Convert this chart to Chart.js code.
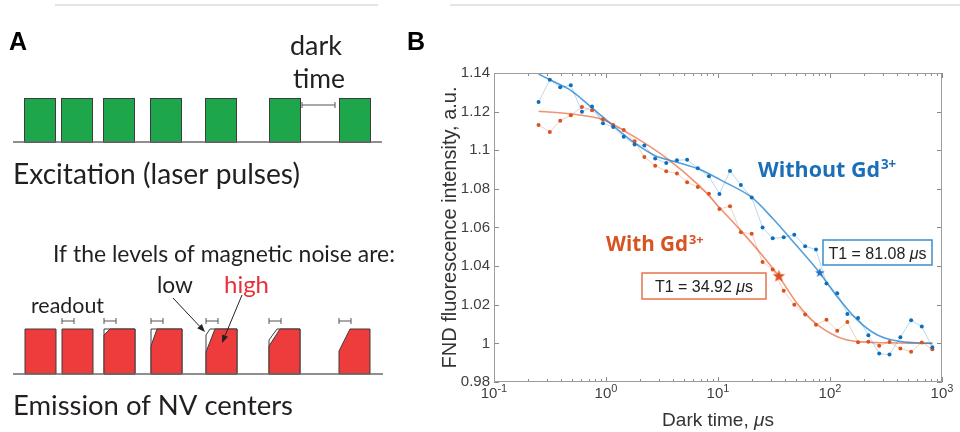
<!DOCTYPE html>
<html>
<head>
<meta charset="utf-8">
<script src="https://cdn.jsdelivr.net/npm/chart.js@4.4.0/dist/chart.umd.min.js"></script>
<style>
  body { margin: 0; background: #fff; }
  #wrap { position: relative; width: 960px; height: 432px; overflow: hidden; }
  canvas { position: absolute; top: 0; }
  #panelA { left: 0; }
  #panelB { left: 440px; }
</style>
</head>
<body>
<div id="wrap">
  <canvas id="panelA" width="440" height="432"></canvas>
  <canvas id="panelB" width="520" height="432"></canvas>
</div>
<script>
// ---- panel B data ----
const darkTime = [0.25, 0.315, 0.39, 0.485, 0.61, 0.75, 0.94, 1.16, 1.44, 1.8, 2.2, 2.75, 3.45, 4.3, 5.3, 6.6, 8.3, 10.3, 12.8, 16,
                  20, 25, 30.8, 38.6, 48, 60, 75, 93, 116, 143, 178, 220, 275, 340, 425, 530, 660, 820];
const withoutGd = [1.125, 1.1365, 1.1326, 1.1336, 1.12, 1.1227, 1.114, 1.112, 1.107, 1.103, 1.1024, 1.0957, 1.0934, 1.0948, 1.0951, 1.0907, 1.0865, 1.0774, 1.0893, 1.082,
                   1.0755, 1.06, 1.0544, 1.0549, 1.0563, 1.0503, 1.0486, 1.031, 1.026, 1.0152, 1.0132, 1.0042, 0.9947, 0.9942, 1.0032, 1.012, 1.0087, 0.998];
const withGd = [1.1131, 1.1095, 1.1153, 1.1181, 1.1224, 1.1207, 1.116, 1.1131, 1.1105, 1.1046, 1.0965, 1.092, 1.0891, 1.088, 1.0834, 1.081, 1.0775, 1.0696, 1.071, 1.0575,
                1.0568, 1.0422, 1.0382, 1.0273, 1.02, 1.0149, 1.0097, 1.0122, 1.0066, 1.0111, 1.0006, 1.0009, 0.9988, 1.0007, 0.9973, 0.9956, 1.0005, 0.9969];

// fitted curves
const fitWithoutX = [0.25, 0.315, 0.485, 0.75, 1.16, 1.8, 2.75, 4.3, 6.9, 10.4, 19.4, 31, 50.5, 81.08, 115, 174, 262, 425, 820];
const fitWithoutY = [1.1395, 1.1365, 1.131, 1.1219, 1.1127, 1.1038, 1.0972, 1.0938, 1.09, 1.0848, 1.0762, 1.0645, 1.0505, 1.0365, 1.0244, 1.0123, 1.0045, 1.001, 1.0];
const fitWithX = [0.25, 0.485, 0.94, 1.8, 3.45, 6.9, 10.4, 15.7, 24.5, 34.92, 50.5, 73.6, 115, 174, 425, 820];
const fitWithY = [1.1202, 1.1188, 1.1158, 1.1069, 1.096, 1.0813, 1.0701, 1.0589, 1.046, 1.0347, 1.0209, 1.0106, 1.0036, 1.001, 1.0002, 1.0];

// T1 markers
const t1Without = 81.08, t1WithoutY = 1.0365;
const t1With = 34.92, t1WithY = 1.0347;

const yTicks = [0.98, 1, 1.02, 1.04, 1.06, 1.08, 1.1, 1.12, 1.14];
const xTicks = [0.1, 1, 10, 100, 1000];
const xTickExp = ['-1', '0', '1', '2', '3'];

// ---- panel A diagram data ----
const exciteLeft = [24, 61, 103, 150, 205, 269, 339];
const emitLeft = [25, 62, 104, 151, 206, 269, 339];
const ghostCut = [[0, 0], [0, 0], [0, 0], [0, 0], [4, 6], [8, 11], [11, 22]];
const redCut = [[0, 0], [0, 0], [6, 6], [6, 17], [9, 23], [11, 17], [11, 22]];

const BLUE = '#0b6fbe';
const ORANGE = '#d9531e';

function pts(xs, ys) {
  return xs.map((x, i) => ({ x: x, y: ys[i] }));
}

function fitText(ctx, str, x, base, w, weight, family, color) {
  ctx.font = weight + ' 100px ' + family;
  const size = 100 * w / ctx.measureText(str).width;
  ctx.font = weight + ' ' + size.toFixed(2) + 'px ' + family;
  ctx.fillStyle = color;
  ctx.textAlign = 'left';
  ctx.textBaseline = 'alphabetic';
  ctx.fillText(str, x, base);
  return size;
}

function arrow(ctx, x1, y1, x2, y2) {
  const ang = Math.atan2(y2 - y1, x2 - x1), L = 8, H = 3.2;
  ctx.beginPath();
  ctx.moveTo(x1, y1);
  ctx.lineTo(x2 - L * Math.cos(ang), y2 - L * Math.sin(ang));
  ctx.stroke();
  ctx.beginPath();
  ctx.moveTo(x2, y2);
  ctx.lineTo(x2 - L * Math.cos(ang) + H * Math.sin(ang), y2 - L * Math.sin(ang) - H * Math.cos(ang));
  ctx.lineTo(x2 - L * Math.cos(ang) - H * Math.sin(ang), y2 - L * Math.sin(ang) + H * Math.cos(ang));
  ctx.closePath();
  ctx.fill();
}

function bracket(ctx, x1, x2, y) {
  ctx.beginPath();
  ctx.moveTo(x1, y); ctx.lineTo(x2, y);
  ctx.moveTo(x1, y - 3); ctx.lineTo(x1, y + 3);
  ctx.moveTo(x2, y - 3); ctx.lineTo(x2, y + 3);
  ctx.stroke();
}

// draws the pulse diagram of panel A through the chart's scales
const diagramPlugin = {
  id: 'diagram',
  afterDraw(chart) {
    const ctx = chart.ctx;
    const X = v => chart.scales.x.getPixelForValue(v);
    const Y = v => chart.scales.y.getPixelForValue(v);
    const w = 31;
    ctx.save();

    ctx.strokeStyle = '#e4e4e4';
    ctx.lineWidth = 2;
    ctx.beginPath(); ctx.moveTo(X(55), Y(5)); ctx.lineTo(X(378), Y(5)); ctx.stroke();

    const font = 'Lato, "Open Sans", sans-serif';
    const ink = '#231f20';
    ctx.font = 'bold 25px "Liberation Sans", Arial, sans-serif';
    ctx.fillStyle = '#000';
    ctx.fillText('A', X(9), Y(50));
    ctx.fillText('B', X(407), Y(50));

    // excitation pulses
    ctx.lineWidth = 1;
    exciteLeft.forEach(l => {
      ctx.fillStyle = '#1ea64b';
      ctx.fillRect(X(l), Y(98), X(l + w) - X(l), Y(142) - Y(98));
      ctx.strokeStyle = '#3c3c3c';
      ctx.strokeRect(X(l) + 0.5, Y(98) + 0.5, X(l + w) - X(l), Y(142) - Y(98));
    });
    ctx.strokeStyle = '#6a6a6a';
    ctx.lineWidth = 1.5;
    ctx.beginPath(); ctx.moveTo(X(13), Y(142)); ctx.lineTo(X(382), Y(142)); ctx.stroke();
    ctx.lineWidth = 1;
    ctx.strokeStyle = '#555';
    bracket(ctx, X(302), X(335), Y(105));

    // emission pulses
    const top = 329, bot = 374;
    emitLeft.forEach((l, i) => {
      const g = ghostCut[i], r = redCut[i];
      ctx.strokeStyle = '#3c3c3c';
      if (r[0] > 0 && (g[0] !== r[0] || g[1] !== r[1])) {
        ctx.beginPath();
        ctx.moveTo(X(l + g[0]), Y(top));
        ctx.lineTo(X(l + w), Y(top)); ctx.lineTo(X(l + w), Y(bot));
        ctx.lineTo(X(l), Y(bot)); ctx.lineTo(X(l), Y(top + g[1]));
        ctx.closePath();
        ctx.fillStyle = '#fff'; ctx.fill(); ctx.stroke();
      }
      ctx.beginPath();
      ctx.moveTo(X(l + r[0]), Y(top));
      ctx.lineTo(X(l + w), Y(top)); ctx.lineTo(X(l + w), Y(bot));
      ctx.lineTo(X(l), Y(bot)); ctx.lineTo(X(l), Y(top + r[1]));
      ctx.closePath();
      ctx.fillStyle = '#ee3b3b'; ctx.fill(); ctx.stroke();
      if (i > 0) {
        ctx.strokeStyle = '#555';
        bracket(ctx, X(l), X(l + 12), Y(321));
      }
    });
    ctx.strokeStyle = '#6a6a6a';
    ctx.lineWidth = 1.5;
    ctx.beginPath(); ctx.moveTo(X(13), Y(374)); ctx.lineTo(X(383), Y(374)); ctx.stroke();

    // arrows
    ctx.lineWidth = 1;
    ctx.strokeStyle = '#222';
    ctx.fillStyle = '#222';
    arrow(ctx, X(173), Y(298), X(205), Y(332));
    arrow(ctx, X(242), Y(295), X(222), Y(343));

    // labels
    fitText(ctx, 'dark', X(290), Y(55), 52, 'normal', font, ink);
    fitText(ctx, 'time', X(293), Y(88), 52, 'normal', font, ink);
    fitText(ctx, 'Excitation (laser pulses)', X(13), Y(184), 287, 'normal', font, ink);
    fitText(ctx, 'If the levels of magnetic noise are:', X(53), Y(262), 342, 'normal', font, ink);
    fitText(ctx, 'low', X(157), Y(293), 36, 'normal', font, ink);
    fitText(ctx, 'high', X(224), Y(293), 45, 'normal', font, '#e8303a');
    fitText(ctx, 'readout', X(31), Y(313), 73, 'normal', font, ink);
    fitText(ctx, 'Emission of NV centers', X(13), Y(415), 280, 'normal', font, ink);
    ctx.restore();
  }
};

new Chart(document.getElementById('panelA'), {
  type: 'scatter',
  data: { datasets: [] },
  options: {
    responsive: false,
    animation: false,
    events: [],
    layout: { padding: 0 },
    plugins: { legend: { display: false }, tooltip: { enabled: false } },
    scales: {
      x: { type: 'linear', min: 0, max: 440, display: false },
      y: { type: 'linear', min: 0, max: 432, reverse: true, display: false }
    }
  },
  plugins: [diagramPlugin]
});

// ---- panel B ----
function starImage(color, r) {
  const c = document.createElement('canvas');
  const s = Math.ceil(r * 2 + 2);
  c.width = c.height = s;
  const g = c.getContext('2d');
  g.fillStyle = color;
  g.beginPath();
  for (let i = 0; i < 10; i++) {
    const a = -Math.PI / 2 + i * Math.PI / 5;
    const rr = i % 2 ? r * 0.42 : r;
    g.lineTo(s / 2 + rr * Math.cos(a), s / 2 + rr * Math.sin(a));
  }
  g.closePath();
  g.fill();
  return c;
}

function drawSup(ctx, main, sup, x, base, w, color) {
  const size = fitText(ctx, main, x, base, w, 'bold', '"Open Sans", sans-serif', color);
  ctx.font = 'bold ' + (size * 0.62).toFixed(2) + 'px "Open Sans", sans-serif';
  ctx.fillText(sup, x + w + 1, base - size * 0.36);
}

function boxLabel(ctx, num, x1, y1, x2, y2, color) {
  ctx.lineWidth = 1.5;
  ctx.strokeStyle = color;
  ctx.strokeRect(x1, y1, x2 - x1, y2 - y1);
  const f = '"Liberation Sans", Arial, sans-serif';
  const a = 'T1 = ' + num + ' ', b = 'μ', c = 's';
  ctx.font = '16px ' + f;
  const wa = ctx.measureText(a).width, wc = ctx.measureText(c).width;
  ctx.font = 'italic 16px ' + f;
  const wb = ctx.measureText(b).width;
  let x = (x1 + x2) / 2 - (wa + wb + wc) / 2;
  const base = (y1 + y2) / 2 + 6;
  ctx.fillStyle = '#222';
  ctx.textAlign = 'left';
  ctx.font = '16px ' + f; ctx.fillText(a, x, base); x += wa;
  ctx.font = 'italic 16px ' + f; ctx.fillText(b, x, base); x += wb;
  ctx.font = '16px ' + f; ctx.fillText(c, x, base);
}

const framePlugin = {
  id: 'frame',
  afterDatasetsDraw(chart) {
    const ctx = chart.ctx, a = chart.chartArea;
    const sx = chart.scales.x, sy = chart.scales.y;
    ctx.save();

    ctx.strokeStyle = '#e4e4e4';
    ctx.lineWidth = 2;
    ctx.beginPath(); ctx.moveTo(10, 5); ctx.lineTo(520, 5); ctx.stroke();

    // inward ticks on all four sides
    ctx.strokeStyle = '#8a8a8a';
    ctx.lineWidth = 1;
    ctx.beginPath();
    yTicks.forEach(v => {
      const py = Math.round(sy.getPixelForValue(v)) + 0.5;
      ctx.moveTo(a.left, py); ctx.lineTo(a.left + 5, py);
      ctx.moveTo(a.right, py); ctx.lineTo(a.right - 5, py);
    });
    xTicks.forEach(d => {
      for (let m = 1; m <= 9; m++) {
        const v = m * d;
        if (v > 1000) break;
        const px = Math.round(sx.getPixelForValue(v)) + 0.5;
        const len = m === 1 ? 5 : 3;
        ctx.moveTo(px, a.bottom); ctx.lineTo(px, a.bottom - len);
        ctx.moveTo(px, a.top); ctx.lineTo(px, a.top + len);
      }
    });
    ctx.stroke();
    ctx.strokeStyle = '#9c9c9c';
    ctx.strokeRect(a.left + 0.5, a.top + 0.5, a.right - a.left - 1, a.bottom - a.top - 1);

    // x tick labels with superscripts
    const f = '"Liberation Sans", Arial, sans-serif';
    ctx.fillStyle = '#404040';
    ctx.textAlign = 'left';
    xTicks.forEach((v, k) => {
      ctx.font = '15px ' + f;
      const w1 = ctx.measureText('10').width;
      ctx.font = '11px ' + f;
      const w2 = ctx.measureText(xTickExp[k]).width;
      const x0 = sx.getPixelForValue(v) - (w1 + w2) / 2;
      ctx.font = '15px ' + f;
      ctx.fillText('10', x0, a.bottom + 16);
      ctx.font = '11px ' + f;
      ctx.fillText(xTickExp[k], x0 + w1, a.bottom + 10);
    });

    // x title
    const t1 = 'Dark time, ', t2 = 'μ', t3 = 's';
    ctx.font = '19px ' + f;
    const w1 = ctx.measureText(t1).width, w3 = ctx.measureText(t3).width;
    ctx.font = 'italic 19px ' + f;
    const w2 = ctx.measureText(t2).width;
    let tx = (a.left + a.right) / 2 - (w1 + w2 + w3) / 2;
    ctx.fillStyle = '#333';
    ctx.font = '19px ' + f; ctx.fillText(t1, tx, 426); tx += w1;
    ctx.font = 'italic 19px ' + f; ctx.fillText(t2, tx, 426); tx += w2;
    ctx.font = '19px ' + f; ctx.fillText(t3, tx, 426);

    // annotations
    drawSup(ctx, 'Without Gd', '3+', 318, 177, 122, '#1a6fb8');
    drawSup(ctx, 'With Gd', '3+', 166, 251, 82, '#d8531f');
    boxLabel(ctx, t1Without.toFixed(2), 383, 240, 492, 265, '#3a8fd0');
    boxLabel(ctx, t1With.toFixed(2), 202, 273, 326, 299, '#e2764c');
    ctx.restore();
  }
};

new Chart(document.getElementById('panelB'), {
  type: 'scatter',
  data: {
    datasets: [
      {
        label: 'fit without Gd',
        data: pts(fitWithoutX, fitWithoutY),
        showLine: true,
        borderColor: 'rgba(40,135,210,0.8)',
        borderWidth: 1.6,
        pointRadius: 0,
        tension: 0.3,
        order: 3
      },
      {
        label: 'fit with Gd',
        data: pts(fitWithX, fitWithY),
        showLine: true,
        borderColor: 'rgba(235,120,80,0.8)',
        borderWidth: 1.6,
        pointRadius: 0,
        tension: 0.3,
        order: 3
      },
      {
        label: 'Without Gd3+',
        data: pts(darkTime, withoutGd),
        showLine: true,
        borderColor: 'rgba(0,114,189,0.28)',
        borderWidth: 1,
        pointRadius: 2,
        pointBorderWidth: 0,
        pointBackgroundColor: BLUE,
        order: 2
      },
      {
        label: 'With Gd3+',
        data: pts(darkTime, withGd),
        showLine: true,
        borderColor: 'rgba(217,83,25,0.28)',
        borderWidth: 1,
        pointRadius: 2,
        pointBorderWidth: 0,
        pointBackgroundColor: ORANGE,
        order: 2
      },
      {
        label: 'T1 without',
        data: [{ x: t1Without, y: t1WithoutY }],
        pointStyle: starImage('#2472c2', 5),
        order: 1
      },
      {
        label: 'T1 with',
        data: [{ x: t1With, y: t1WithY }],
        pointStyle: starImage('#e0501c', 6.5),
        order: 1
      }
    ]
  },
  options: {
    responsive: false,
    animation: false,
    events: [],
    layout: { padding: { top: 73, right: 18, left: 0, bottom: 0 } },
    plugins: { legend: { display: false }, tooltip: { enabled: false } },
    scales: {
      x: {
        type: 'logarithmic',
        min: 0.1,
        max: 1000,
        grid: { display: false },
        border: { display: false },
        ticks: { display: false },
        afterBuildTicks: s => { s.ticks = xTicks.map(v => ({ value: v })); },
        afterFit: s => { s.height = 50; }
      },
      y: {
        min: 0.98,
        max: 1.14,
        grid: { display: false, drawTicks: false },
        border: { display: false },
        afterBuildTicks: s => { s.ticks = yTicks.map(v => ({ value: v })); },
        afterFit: s => { s.width = 54; },
        ticks: {
          padding: 4,
          color: '#404040',
          font: { family: '"Liberation Sans", Arial, sans-serif', size: 15 },
          callback: v => String(+Number(v).toFixed(2))
        },
        title: {
          display: true,
          text: 'FND fluorescence intensity, a.u.',
          color: '#333',
          padding: 0,
          font: { family: '"Liberation Sans", Arial, sans-serif', size: 20, lineHeight: 1 }
        }
      }
    }
  },
  plugins: [framePlugin]
});
</script>
</body>
</html>
